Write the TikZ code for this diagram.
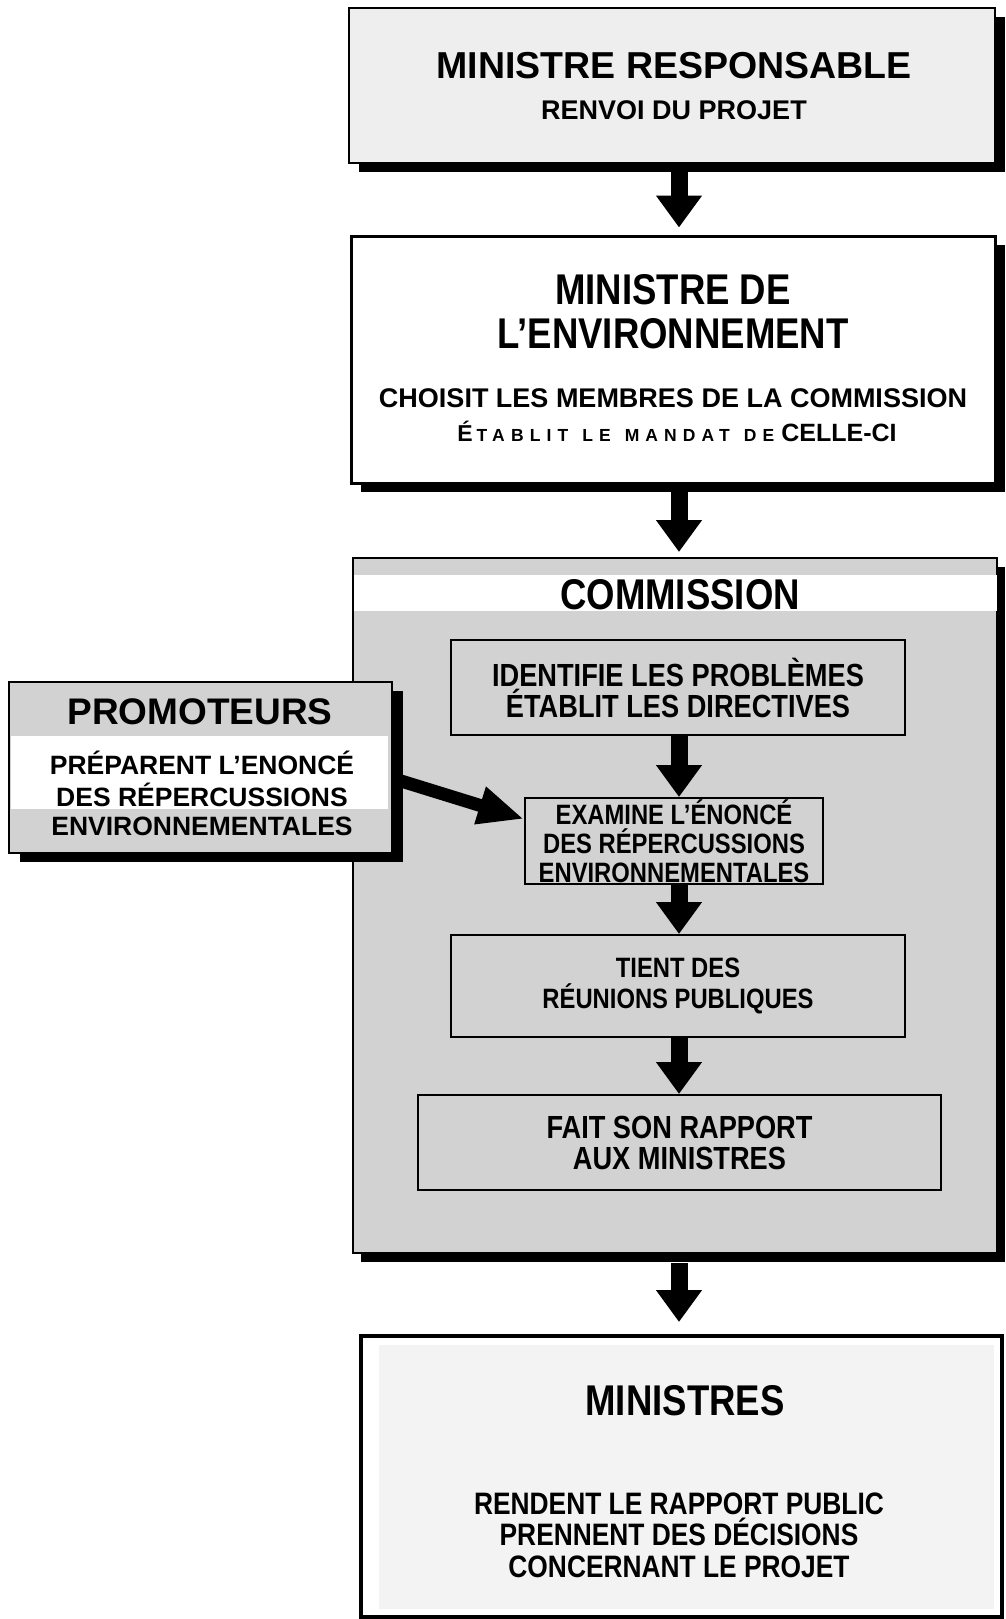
\documentclass[tikz,border=0pt]{standalone}
\usepackage{fontspec}
\setmainfont{Liberation Sans}
\newfontfamily\cond{Liberation Sans}[FakeStretch=0.85]
\newfontfamily\spaced{Liberation Sans}[LetterSpace=35]
\usetikzlibrary{arrows.meta,shadows}
\definecolor{pgray}{HTML}{D2D2D2}
\definecolor{lgray}{HTML}{EEEEEE}
\definecolor{vlgray}{HTML}{F3F3F3}
\tikzset{
  box/.style={draw=black, line width=2pt, inner sep=0pt, align=center},
  shad/.style={drop shadow={fill=black, opacity=1, shadow xshift=10pt, shadow yshift=-9pt}},
  tx/.style={anchor=base, inner sep=0pt},
  band/.style={fill=white, draw=none, inner sep=0pt},
  flow/.style={line width=17pt, -{Triangle[length=32pt,width=44pt]}},
  diag/.style={line width=13pt, -{Triangle[length=46pt,width=36pt]}},
  big/.style={font=\cond\bfseries\fontsize{43}{46}\selectfont},
  inner/.style={font=\cond\bfseries\fontsize{32}{31}\selectfont}
}
\begin{document}
\begin{tikzpicture}[x=1pt,y=-1pt]
\useasboundingbox[fill=white] (0,0) rectangle (1005,1619);
\coordinate (ax) at (679,0);

% Ministre responsable
\node[box, shad, fill=lgray, minimum width=646pt, minimum height=155pt] (b1) at (672,85.5) {};
\node[tx, font=\bfseries\fontsize{37.5}{40}\selectfont] (t1a) at (674,78.4) {MINISTRE RESPONSABLE};
\node[tx, font=\bfseries\fontsize{27}{30}\selectfont] (t1b) at (674,119.7) {RENVOI DU PROJET};

% Ministre de l'environnement
\node[box, shad, line width=3pt, fill=white, minimum width=644pt, minimum height=247pt] (b2) at (673,359.5) {};
\node[tx, big] (t2a) at (673,304) {MINISTRE DE};
\node[tx, big] (t2b) at (673,348) {L’ENVIRONNEMENT};
\node[tx, font=\bfseries\fontsize{27}{30}\selectfont] (t2c) at (673,407.7) {CHOISIT\ LES\ MEMBRES\ DE\ LA\ COMMISSION};
\node[tx, font=\bfseries] (t2d) at (677,441) {{\fontsize{23}{23}\selectfont É}\hspace{4pt}{\spaced\fontsize{17.5}{17.5}\selectfont TABLIT\hspace{14pt}LE\hspace{14pt}MANDAT\hspace{14pt}DE}\hspace{7pt}{\fontsize{25}{25}\selectfont CELLE-CI}};

% Commission
\node[box, drop shadow={fill=black, opacity=1, shadow xshift=8pt, shadow yshift=-9pt}, fill=pgray, minimum width=644pt, minimum height=695pt] (com) at (675,905.5) {};
\node[band, minimum width=643pt, minimum height=36pt] (cband) at (675.5,593) {};
\node[tx, big] (tc) at (680,609) {COMMISSION};

\node[box, inner, fill=pgray, minimum width=454pt, minimum height=95pt] (id) at (678,687.5) {IDENTIFIE LES PROBLÈMES\\ÉTABLIT LES DIRECTIVES};
\node[box, font=\cond\bfseries\fontsize{28}{29}\selectfont, fill=pgray, minimum width=298pt, minimum height=86pt] (ex) at (674,841) {EXAMINE L’ÉNONCÉ\\DES RÉPERCUSSIONS\\ENVIRONNEMENTALES};
\node[box, font=\cond\bfseries\fontsize{28}{31}\selectfont, fill=pgray, minimum width=454pt, minimum height=102pt] (ti) at (678,986) {TIENT DES\\RÉUNIONS PUBLIQUES};
\node[box, inner, fill=pgray, minimum width=523pt, minimum height=95pt] (fa) at (679.5,1142.5) {FAIT SON RAPPORT\\AUX MINISTRES};

% Promoteurs
\node[box, drop shadow={fill=black, opacity=1, shadow xshift=11pt, shadow yshift=-9pt}, fill=pgray, minimum width=383pt, minimum height=171pt] (pr) at (200.5,767.5) {};
\node[band, minimum width=377pt, minimum height=73pt] (pband) at (199.5,772) {};
\node[tx, font=\bfseries\fontsize{37}{40}\selectfont] (tpa) at (200,724) {PROMOTEURS};
\node[tx, font=\bfseries\fontsize{26.5}{28}\selectfont] (tpb) at (202,774.5) {PRÉPARENT L’ENONCÉ};
\node[tx, font=\bfseries\fontsize{26.5}{28}\selectfont] (tpc) at (202,806.5) {DES RÉPERCUSSIONS};
\node[tx, font=\bfseries\fontsize{26.5}{28}\selectfont] (tpd) at (202,835.5) {ENVIRONNEMENTALES};

% Ministres
\node[box, line width=4pt, fill=white, minimum width=641pt, minimum height=281pt] (mi) at (681.5,1476.5) {};
\node[band, fill=vlgray, minimum width=615pt, minimum height=264pt] (miin) at (686.5,1477) {};
\node[tx, big] (tma) at (685,1415) {MINISTRES};
\node[tx, font=\cond\bfseries\fontsize{31}{33}\selectfont] (tmb) at (679,1514) {RENDENT\ LE\ RAPPORT\ PUBLIC};
\node[tx, font=\cond\bfseries\fontsize{31}{33}\selectfont] (tmc) at (679,1545) {PRENNENT\ DES\ DÉCISIONS};
\node[tx, font=\cond\bfseries\fontsize{31}{33}\selectfont] (tmd) at (679,1577) {CONCERNANT\ LE\ PROJET};

% Arrows
\draw[flow, shorten >=7pt] (b1.south -| ax) -- (b2.north -| ax);
\draw[flow, shorten >=5pt] (b2.south -| ax) -- (com.north -| ax);
\draw[flow] (id.south -| ax) -- (ex.north -| ax);
\draw[flow] (ex.south -| ax) -- (ti.north -| ax);
\draw[flow] (ti.south -| ax) -- (fa.north -| ax);
\draw[flow, shorten <=9pt, shorten >=12pt] (com.south -| ax) -- (mi.north -| ax);
\draw[diag] ([yshift=-11pt]pr.east) -- ([yshift=22pt]ex.west);
\end{tikzpicture}
\end{document}
